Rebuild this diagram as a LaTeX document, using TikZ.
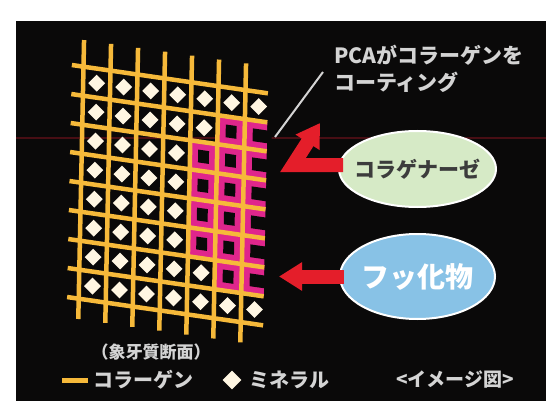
\documentclass[tikz,border=0pt]{standalone}
\usepackage{fontspec}
\setmainfont{Noto Sans CJK JP}
\usetikzlibrary{arrows.meta,positioning,shapes.geometric}

\definecolor{panel}{RGB}{10,9,9}
\definecolor{collagen}{RGB}{246,185,58}
\definecolor{coatpink}{RGB}{224,38,140}
\definecolor{mineralc}{RGB}{255,246,226}
\definecolor{enzymeg}{RGB}{214,234,198}
\definecolor{fluorb}{RGB}{136,194,230}
\definecolor{arrowred}{RGB}{228,30,42}
\definecolor{captiong}{RGB}{212,212,212}
\definecolor{darktext}{RGB}{60,60,60}
\definecolor{scanline}{RGB}{72,14,20}

\begin{document}
\begin{tikzpicture}[
    x=1pt, y=-1pt,
    fiber/.style={collagen, line width=4.5pt},
    mineral/.style={diamond, fill=mineralc, inner sep=0pt, minimum width=17pt, minimum height=17pt},
    blob/.style={ellipse, draw=white, line width=2pt, inner sep=0pt},
    redarr/.style={arrowred, line width=14pt, -{Triangle[length=23pt,width=27pt]}},
    caption/.style={text=captiong, inner sep=0pt}
  ]
    \useasboundingbox (0,0) rectangle (546,401);
    \fill[white] (0,0) rectangle (546,401);
    \fill[panel] (16,21) rectangle (546,401);
    \draw[scanline, line width=1.5pt] (16,138) -- (546,138);

    % dentin lattice, skewed
    \begin{scope}[shift={(83.5pt,-66.7pt)}, x={(27pt,-3.9pt)}, y={(-0.6pt,-29pt)}]
      % coated cells
      \foreach \j/\s in {1/5,2/4,3/4,4/4,5/4,6/5} {
        \foreach \i in {\s,...,5} {
          \fill[coatpink] (\i,\j) -- ++(1,0) -- ++(0,1) -- ++(-1,0) -- cycle;
          \fill[panel] (\i+0.3,\j+0.28) -- ++(0.4,0) -- ++(0,0.44) -- ++(-0.4,0) -- cycle;
        }
        \fill[coatpink] (6,\j) -- (6.83,\j) -- (6.83,\j+1) -- (6,\j+1) -- cycle;
        \fill[panel] (6.3,\j+0.28) -- (7,\j+0.28) -- (7,\j+0.72) -- (6.3,\j+0.72) -- cycle;
      }
      % collagen fibres
      \foreach \j in {0,...,8}
        \draw[fiber] (-0.43,\j) -- (6.83,\j);
      \foreach \i in {0,...,6}
        \draw[fiber] (\i,-0.92) -- (\i,8.7);
      % minerals
      \foreach \j/\n in {0/6,1/4,2/3,3/3,4/3,5/3,6/4,7/6}
        \foreach \i in {0,...,\n}
          \node[mineral] (min-\i-\j) at (\i+0.5,\j+0.5) {};
    \end{scope}

    % agents
    \node[blob, fill=enzymeg, minimum width=157pt, minimum height=76pt] (enzyme) at (417.5,169) {};
    \node[blob, fill=fluorb, minimum width=155pt, minimum height=85pt, below=25pt of enzyme] (fluor) {};
    \node[text=darktext, inner sep=0pt, font=\fontsize{21}{25}\selectfont\bfseries] (enzymename) at (enzyme) {コラゲナーゼ};
    \node[text=white, inner sep=0pt, font=\fontsize{28}{32}\selectfont\bfseries] (fluorname) at (fluor) {フッ化物};

    \coordinate (tipA) at (320,123);
    \coordinate (tipB) at (279,276.5);
    \draw[redarr] ([shift={(5pt,4pt)}]enzyme.west) -- ++(-50,0) -- (tipA);
    \draw[redarr] ([xshift=5pt]fluor.west) -- (tipB);

    % coating note
    \node[caption, anchor=north west, align=left, font=\fontsize{21}{27}\selectfont\bfseries] (note) at (334,45)
      {PCAがコラーゲンを\\コーティング};
    \coordinate (coatpt) at (275,137);
    \coordinate (noteend) at (323,72);
    \draw[captiong, line width=2pt] (coatpt) -- (noteend);

    % caption and legend
    \node[caption, font=\fontsize{17}{20}\selectfont\bfseries] (section) at (151,352) {（象牙質断面）};
    \coordinate (swatchL) at (62,380);
    \coordinate (swatchR) at (88,380);
    \draw[collagen, line width=5pt] (swatchL) -- (swatchR);
    \node[caption, anchor=west, font=\fontsize{20}{24}\selectfont\bfseries] (collname) at (93,380) {コラーゲン};
    \node[mineral, minimum width=19pt, minimum height=19pt] (minkey) at (232,380) {};
    \node[caption, right=8pt of minkey, font=\fontsize{20}{24}\selectfont\bfseries] (minname) {ミネラル};
    \node[caption, anchor=west, font=\fontsize{19}{23}\selectfont\bfseries] (imagenote) at (396,380) {<イメージ図>};
  \end{tikzpicture}
\end{document}
